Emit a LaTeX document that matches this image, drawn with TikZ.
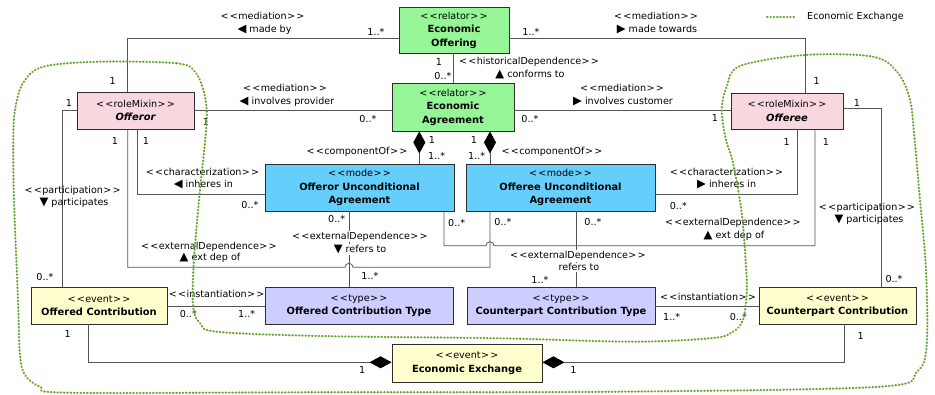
\documentclass[tikz,border=0pt]{standalone}
\usepackage{fontspec}
\setmainfont{DejaVu Sans}
\usetikzlibrary{arrows.meta}

\definecolor{relatorfill}{RGB}{150,245,150}
\definecolor{rolefill}{RGB}{248,215,222}
\definecolor{modefill}{RGB}{102,206,250}
\definecolor{typefill}{RGB}{205,205,255}
\definecolor{eventfill}{RGB}{255,255,205}
\definecolor{boxline}{RGB}{45,45,45}
\definecolor{connline}{RGB}{85,85,85}
\definecolor{exchgreen}{RGB}{108,165,48}

\newcommand{\lbl}{\fontsize{9.6}{13.5}\selectfont}
\newcommand{\stereo}[1]{<\kern1.2pt<\kern0.4pt#1\kern0.4pt>\kern1.2pt>}
\newcommand{\ttl}[1]{{\fontsize{9.9}{13.5}\selectfont\bfseries #1}}
\newcommand{\tri}[1]{{\fontsize{11.5}{12}\selectfont #1}}

\tikzset{
  cls/.style={draw=boxline, line width=0.9pt, align=center, inner sep=0pt, font=\lbl},
  conn/.style={draw=connline, line width=0.8pt},
  comp/.style={arrows={Diamond[length=22pt,width=12pt,color=black]-}},
  lab/.style={font=\lbl, inner sep=0pt, align=center},
  mult/.style={font=\lbl, inner sep=0pt},
  cover/.style={lab, fill=white, inner sep=1pt},
  exchline/.style={draw=exchgreen, line width=2.1pt, line cap=round, dash pattern=on 0.6pt off 2.7pt}
}

\begin{document}
\begin{tikzpicture}[x=1pt,y=-1pt]
\fill[white] (0,0) rectangle (935,395);
\useasboundingbox (0,0) rectangle (935,395);

% ---------- classes ----------
\node[cls, fill=relatorfill, minimum width=110pt, minimum height=46pt] (off) at (454,30)
  {\stereo{relator}\\\ttl{Economic}\\\ttl{Offering}};
\node[cls, fill=relatorfill, minimum width=122pt, minimum height=48pt] (agr) at (453,107)
  {\stereo{relator}\\\ttl{Economic}\\\ttl{Agreement}};
\node[cls, fill=rolefill, minimum width=117pt, minimum height=37pt] (offeror) at (135.5,110.5)
  {\stereo{roleMixin}\\\ttl{\itshape Offeror}};
\node[cls, fill=rolefill, minimum width=112pt, minimum height=36pt] (offeree) at (787,111)
  {\stereo{roleMixin}\\\ttl{\itshape Offeree}};
\node[cls, fill=modefill, minimum width=189pt, minimum height=47pt] (oua) at (359.5,187.5)
  {\stereo{mode}\\\ttl{Offeror Unconditional}\\\ttl{Agreement}};
\node[cls, fill=modefill, minimum width=189pt, minimum height=47pt] (eua) at (560.5,187.5)
  {\stereo{mode}\\\ttl{Offeree Unconditional}\\\ttl{Agreement}};
\node[cls, fill=typefill, minimum width=188pt, minimum height=37pt] (oct) at (359,305.5)
  {\stereo{type}\\\ttl{Offered Contribution Type}};
\node[cls, fill=typefill, minimum width=188pt, minimum height=37pt] (cct) at (561,305.5)
  {\stereo{type}\\\ttl{Counterpart Contribution Type}};
\node[cls, fill=eventfill, minimum width=136pt, minimum height=37pt] (oc) at (99,305.5)
  {\stereo{event}\\\ttl{Offered Contribution}};
\node[cls, fill=eventfill, minimum width=157pt, minimum height=37pt] (cc) at (837.5,305.5)
  {\stereo{event}\\\ttl{Counterpart Contribution}};
\node[cls, fill=eventfill, minimum width=150pt, minimum height=38pt] (ee) at (467,363)
  {\stereo{event}\\\ttl{Economic Exchange}};

% ---------- mediations ----------
\draw[conn] (offeror.north -| 127.7,0) |- (off.west |- 0,38.3);
\node[lab] at (262.5,16) {\stereo{mediation}};
\node[lab] at (264.5,30) {\tri{◀} made by};
\node[mult] at (112.7,81) {1};
\node[mult] at (376,32) {1..*};

\draw[conn] (offeree.north -| 805,0) |- (off.east |- 0,38.3);
\node[lab] at (656,16) {\stereo{mediation}};
\node[lab] at (657,30) {\tri{▶} made towards};
\node[mult] at (816.7,81) {1};
\node[mult] at (531,32) {1..*};

\draw[conn] (offeror.east |- 0,110.7) -- (agr.west |- 0,110.7);
\node[lab] at (285,88) {\stereo{mediation}};
\node[lab] at (287,102) {\tri{◀} involves provider};
\node[mult] at (206,122) {1};
\node[mult] at (368,119) {0..*};

\draw[conn] (agr.east |- 0,110.7) -- (offeree.west |- 0,110.7);
\node[lab] at (622,88) {\stereo{mediation}};
\node[lab] at (623,102) {\tri{▶} involves customer};
\node[mult] at (530,119) {0..*};
\node[mult] at (715,118) {1};

% ---------- historical dependence ----------
\draw[conn] (off.south -| 453.3,0) -- (agr.north -| 453.3,0);
\node[lab] at (529,62) {\stereo{historicalDependence}};
\node[lab] at (530,75) {\tri{▲} conforms to};
\node[mult] at (439,62) {1};
\node[mult] at (443,76) {0..*};

% ---------- componentOf ----------
\draw[conn, comp] (agr.south -| 419.3,0) -- (oua.north -| 419.3,0);
\node[lab] at (357,151.7) {\stereo{componentOf}};
\node[mult] at (432,140) {1};
\node[mult] at (436.7,156) {1..*};

\draw[conn, comp] (agr.south -| 490,0) -- (eua.north -| 490,0);
\node[lab] at (552,151.7) {\stereo{componentOf}};
\node[mult] at (474,140) {1};
\node[mult] at (476.7,156) {1..*};

% ---------- characterization ----------
\draw[conn] (offeror.south -| 137.7,0) |- (oua.west |- 0,194.3);
\node[lab] at (202.5,172.3) {\stereo{characterization}};
\node[lab] at (203.3,184.3) {\tri{◀} inheres in};
\node[mult] at (146,141) {1};
\node[mult] at (250,205) {0..*};

\draw[conn] (offeree.south -| 797.7,0) |- (eua.east |- 0,194.3);
\node[lab] at (726.5,172.3) {\stereo{characterization}};
\node[lab] at (726.7,184.3) {\tri{▶} inheres in};
\node[mult] at (786.7,141.7) {1};
\node[mult] at (678.3,206) {0..*};

% ---------- participation ----------
\draw[conn] (offeror.west |- 0,110.7) -| (oc.north -| 62.3,0);
\node[lab] at (72.7,191) {\stereo{participation}};
\node[lab] at (74,203.3) {\tri{▼} participates};
\node[mult] at (69,103) {1};
\node[mult] at (45,276.7) {0..*};

\draw[conn] (offeree.east |- 0,108.3) -| (cc.north -| 881.7,0);
\node[lab] at (867,207.7) {\stereo{participation}};
\node[lab] at (869,220) {\tri{▼} participates};
\node[mult] at (857,103) {1};
\node[mult] at (894,279.3) {0..*};

% ---------- external dependences ----------
\draw[conn] (oua.south -| 444,0) -- (444,245.7) -- (486,245.7)
  arc[start angle=180, end angle=0, radius=4pt] -- (815,245.7) -- (offeree.south -| 815,0);
\node[lab] at (733,222.7) {\stereo{externalDependence}};
\node[lab] at (734,236) {\tri{▲} ext dep of};
\node[mult] at (456.7,222.7) {0..*};
\node[mult] at (826,141.7) {1};

\draw[conn] (eua.south -| 490,0) -- (490,267.3) -- (353,267.3)
  arc[start angle=0, end angle=180, radius=4pt] -- (127.7,267.3) -- (offeror.south -| 127.7,0);
\node[lab] at (209,246.7) {\stereo{externalDependence}};
\node[lab] at (210,258.3) {\tri{▲} ext dep of};
\node[mult] at (503,221.7) {0..*};
\node[mult] at (115,141) {1};

\draw[conn] (oua.south -| 349,0) -- (oct.north -| 349,0);
\node[cover] at (360,236.7) {\stereo{externalDependence}};
\node[cover] at (360,249.3) {\tri{▼} refers to};
\node[mult] at (336.7,219.3) {0..*};
\node[mult] at (370,276) {1..*};

\draw[conn] (eua.south -| 576.7,0) -- (cct.north -| 576.7,0);
\node[cover] at (578,256) {\stereo{externalDependence}};
\node[cover] at (579,267.3) {refers to};
\node[mult] at (593,221.7) {0..*};
\node[mult] at (540,280) {1..*};

% ---------- instantiation ----------
\draw[conn] (oc.east |- 0,306.7) -- (oct.west |- 0,306.7);
\node[lab] at (216.7,294.3) {\stereo{instantiation}};
\node[mult] at (188.3,314) {0..*};
\node[mult] at (246.7,314) {1..*};

\draw[conn] (cct.east |- 0,306.7) -- (cc.west |- 0,306.7);
\node[lab] at (708,296.7) {\stereo{instantiation}};
\node[mult] at (671.7,316.7) {1..*};
\node[mult] at (738.3,316.7) {0..*};

% ---------- exchange composition ----------
\draw[conn, comp] (ee.west |- 0,362.3) -| (oc.south -| 88.3,0);
\node[mult] at (362.3,370) {1};
\node[mult] at (67.7,334) {1};

\draw[conn, comp] (ee.east |- 0,362.3) -| (cc.south -| 844,0);
\node[mult] at (573.3,370) {1};
\node[mult] at (860.7,336) {1};

% ---------- Economic Exchange boundary ----------
\draw[exchline] plot[smooth cycle, tension=0.55] coordinates {
  (100,61.7) (176.7,63.3) (195,71.7) (203.3,90) (206.7,110) (205.7,135)
  (199.3,196.7) (193.5,267) (193.3,308) (200,323) (216.7,331.7) (320,336)
  (500,338.3) (633,341.7) (713,338) (733,331.7) (743,320) (746.7,293)
  (746,266.7) (741.7,213) (733,163) (726,140) (721.7,110) (726.7,86.7)
  (740,66) (805,55) (873,56.7) (898,73) (910,100) (914,133) (920,200)
  (926,270) (926.7,345) (917,371.7) (880,386.7) (620,391.7) (300,392.3)
  (67,392.7) (40,386.7) (25,375) (20,355) (18,300) (14,200) (13.3,140)
  (15,110) (23,83) (43.3,66.7)};

% ---------- legend ----------
\coordinate (legA) at (767,17);
\coordinate (legB) at (796,17);
\draw[exchline] (legA) -- (legB);
\node[lab, anchor=west] (legtext) at (807,17) {Economic Exchange};
\end{tikzpicture}
\end{document}
